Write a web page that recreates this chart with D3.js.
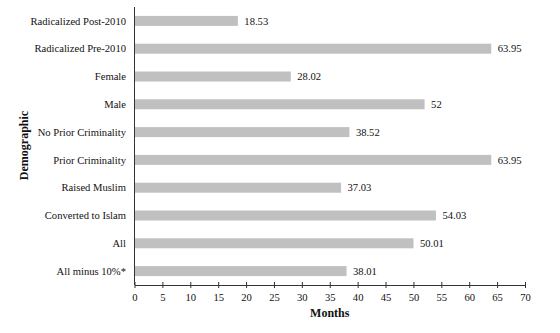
<!DOCTYPE html>
<html><head><meta charset="utf-8">
<script src="https://cdn.jsdelivr.net/npm/d3@7"></script>
<style>body{margin:0;background:#fff}svg{display:block}</style>
</head><body><svg id="c" width="560" height="333"></svg>
<script>
const categories = ["Radicalized Post-2010","Radicalized Pre-2010","Female","Male","No Prior Criminality","Prior Criminality","Raised Muslim","Converted to Islam","All","All minus 10%*"];
const values = [18.53,63.95,28.02,52,38.52,63.95,37.03,54.03,50.01,38.01];
const valueLabels = ["18.53","63.95","28.02","52","38.52","63.95","37.03","54.03","50.01","38.01"];
const xTicks = [0,5,10,15,20,25,30,35,40,45,50,55,60,65,70];

const FONT = "'Liberation Serif','Times New Roman',serif";
const FS = 10.6;
const svg = d3.select("#c");
const x = d3.scaleLinear().domain([0,70]).range([134.5, 525]);
const y = d3.scaleBand().domain(categories).range([7, 285]).paddingInner(0.64).paddingOuter(0.32);

svg.selectAll("rect.bar").data(values).join("rect")
  .attr("x", x(0)).attr("y", (d,i)=>y(categories[i]))
  .attr("width", d=>x(d)-x(0)).attr("height", y.bandwidth())
  .attr("fill", "#c0c0c0");

svg.selectAll("text.val").data(values).join("text")
  .style("font-family", FONT).attr("fill","#111")
  .attr("x", d=>x(d)+6.5).attr("y", (d,i)=>y(categories[i])+y.bandwidth()/2)
  .attr("dy","0.35em").attr("font-size", FS).text((d,i)=>valueLabels[i]);

svg.selectAll("text.cat").data(categories).join("text")
  .style("font-family", FONT).attr("fill","#111")
  .attr("x", 126).attr("y", d=>y(d)+y.bandwidth()/2)
  .attr("dy","0.35em").attr("text-anchor","end").attr("font-size", FS).text(d=>d);

svg.append("line").attr("x1", x(0)).attr("x2", x(0)).attr("y1", 7).attr("y2", 285)
  .attr("stroke","#333").attr("stroke-width",1);

const xa = svg.append("g").attr("transform","translate(0,285)")
  .call(d3.axisBottom(x).tickValues(xTicks).tickSize(0).tickPadding(8));
xa.attr("font-family", null);
xa.select(".domain").attr("stroke","#333");
xa.selectAll(".tick line").remove();
xa.selectAll(".tick").append("line").attr("y1",-3).attr("y2",3).attr("stroke","#333");
xa.selectAll(".tick text").style("font-family", FONT).attr("font-size",FS).attr("fill","#111");

svg.append("text").style("font-family", FONT).attr("fill","#111").attr("x", x(35)).attr("y", 317).attr("text-anchor","middle")
  .attr("font-weight","bold").attr("font-size",12).text("Months");
svg.append("text").style("font-family", FONT).attr("fill","#111").attr("transform","translate(27.5,145.5) rotate(-90)").attr("text-anchor","middle")
  .attr("font-weight","bold").attr("font-size",12).text("Demographic");
</script></body></html>
